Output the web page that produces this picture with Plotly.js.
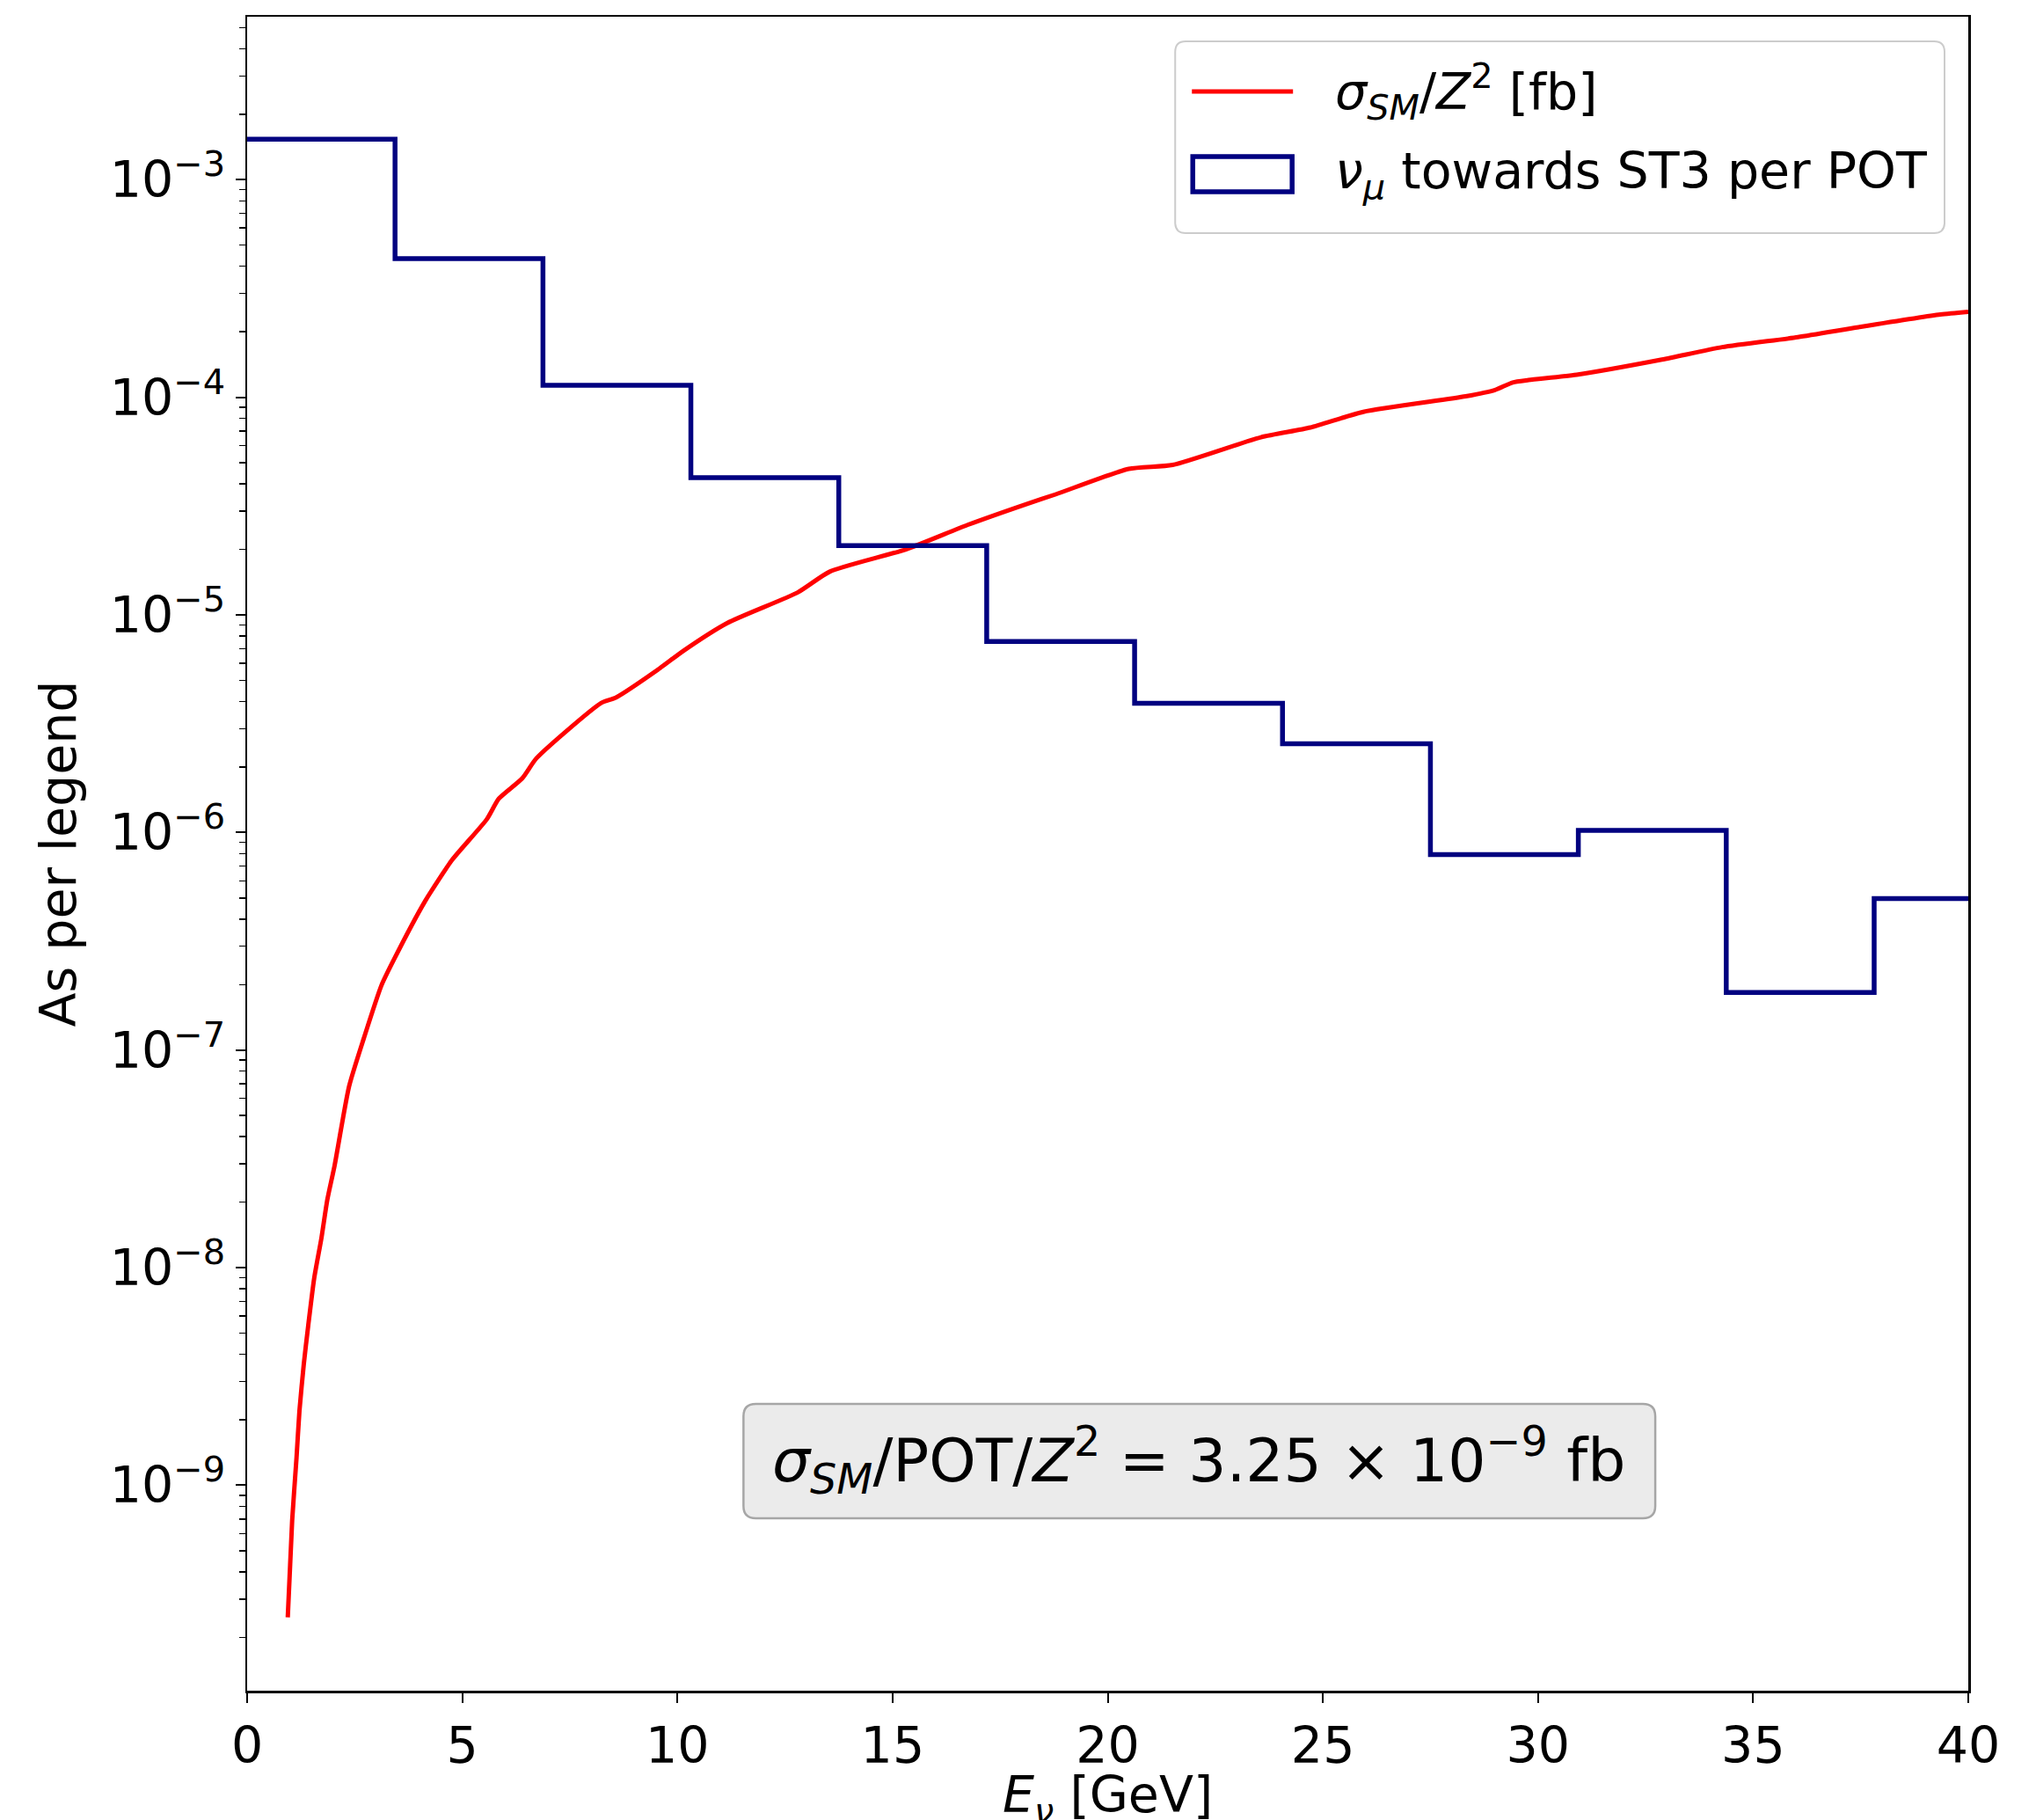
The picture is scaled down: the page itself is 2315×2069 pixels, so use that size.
<!DOCTYPE html>
<html><head><meta charset="utf-8">
<script src="https://cdn.plot.ly/plotly-3.0.1.min.js"></script>
<style>html,body{margin:0;padding:0;background:#fff}</style>
</head><body><div id="chart" style="width:2315px;height:2069px"></div>
<script>
// ---- data ----
const sigmaEnergy = [0.944, 1.046, 1.148, 1.216, 1.318, 1.42, 1.557, 1.727, 1.863, 2.033, 2.37, 2.71, 3.12, 3.40, 4.14, 4.76, 5.57, 5.85, 6.39, 6.73, 8.23, 8.57, 9.59, 10.14, 11.16, 12.80, 13.54, 15.31, 16.74, 18.11, 18.79, 20.49, 21.51, 23.56, 24.71, 25.94, 28.32, 29.0, 29.41, 29.78, 30.9, 32.88, 34.28, 36.04, 37.45, 39.35, 40.0];
const sigmaValue = [2.47e-10, 6.87e-10, 1.34e-9, 2.20e-9, 3.62e-9, 5.42e-9, 8.91e-9, 1.37e-8, 2.05e-8, 2.95e-8, 6.82e-8, 1.13e-7, 1.98e-7, 2.58e-7, 4.85e-7, 7.46e-7, 1.15e-6, 1.43e-6, 1.77e-6, 2.20e-6, 3.94e-6, 4.17e-6, 5.68e-6, 6.84e-6, 9.18e-6, 1.27e-5, 1.58e-5, 2.00e-5, 2.59e-5, 3.23e-5, 3.58e-5, 4.69e-5, 4.89e-5, 6.55e-5, 7.26e-5, 8.57e-5, 1.01e-4, 1.08e-4, 1.17e-4, 1.20e-4, 1.27e-4, 1.49e-4, 1.70e-4, 1.89e-4, 2.10e-4, 2.40e-4, 2.47e-4];
const binEdges = [0, 3.4375, 6.875, 10.3125, 13.75, 17.1875, 20.625, 24.0625, 27.5, 30.9375, 34.375, 37.8125, 41.25];
const fluxValue = [1.535e-3, 4.34e-4, 1.135e-4, 4.27e-5, 2.08e-5, 7.55e-6, 3.92e-6, 2.56e-6, 7.92e-7, 1.023e-6, 1.84e-7, 4.97e-7];
const xTickVals = [0, 5, 10, 15, 20, 25, 30, 35, 40];
const yTickVals = [1e-9, 1e-8, 1e-7, 1e-6, 1e-5, 1e-4, 1e-3];
const yTickText = ['10<sup>\u22129</sup>', '10<sup>\u22128</sup>', '10<sup>\u22127</sup>', '10<sup>\u22126</sup>', '10<sup>\u22125</sup>', '10<sup>\u22124</sup>', '10<sup>\u22123</sup>'];
const seriesNames = ['<i>\u03c3<sub>SM</sub></i>/<i>Z</i><sup>2</sup> [fb]', '<i>\u03bd<sub>\u03bc</sub></i> towards ST3 per POT'];
const boxText = '<i>\u03c3<sub>SM</sub></i>/POT/<i>Z</i><sup>2</sup> = 3.25 \u00d7 10<sup>\u22129</sup> fb';
const xTitle = '<i>E<sub>\u03bd</sub></i> [GeV]';
const yTitle = 'As per legend';

// ---- layout helpers (pixel -> paper) ----
const FONT = 'DejaVu Sans, Liberation Sans, sans-serif';
const P = {l: 280.5, r: 2238, t: 19, b: 1922};
const px = x => (x - P.l) / (P.r - P.l);
const py = y => (P.b - y) / (P.b - P.t);
function roundRect(x0, y0, x1, y1, r) {
  const pt = (x, y) => px(x).toFixed(5) + ',' + py(y).toFixed(5);
  return 'M' + pt(x0 + r, y0) + ' L' + pt(x1 - r, y0) + ' Q' + pt(x1, y0) + ' ' + pt(x1, y0 + r) +
    ' L' + pt(x1, y1 - r) + ' Q' + pt(x1, y1) + ' ' + pt(x1 - r, y1) +
    ' L' + pt(x0 + r, y1) + ' Q' + pt(x0, y1) + ' ' + pt(x0, y1 - r) +
    ' L' + pt(x0, y0 + r) + ' Q' + pt(x0, y0) + ' ' + pt(x0 + r, y0) + ' Z';
}

// minor tick positions for the log axis
const minorVals = [];
for (let e = -10; e <= -3; e++) for (let m = 2; m <= 9; m++) minorVals.push(m * Math.pow(10, e));

const traces = [
  {x: sigmaEnergy, y: sigmaValue, type: 'scatter', mode: 'lines', name: seriesNames[0],
   line: {color: '#ff0000', width: 5, shape: 'spline', smoothing: 0.6}, showlegend: false},
  {x: binEdges, y: fluxValue.concat([fluxValue[fluxValue.length - 1]]), type: 'scatter', mode: 'lines',
   name: seriesNames[1], line: {color: '#000080', width: 5.5, shape: 'hv'}, showlegend: false}
];

const layout = {
  width: 2315, height: 2069,
  margin: {l: 280.5, r: 2315 - 2238, t: 19, b: 2069 - 1922, pad: 0},
  paper_bgcolor: '#fff', plot_bgcolor: '#fff',
  showlegend: false,
  font: {family: FONT, size: 57, color: '#000'},
  xaxis: {
    range: [0, 40], tickmode: 'array', tickvals: xTickVals, ticktext: xTickVals.map(String),
    ticks: 'outside', ticklen: 11, tickwidth: 2, tickcolor: '#000',
    showline: true, linecolor: '#000', linewidth: 2.5, mirror: true,
    showgrid: false, zeroline: false,
    tickfont: {family: FONT, size: 57, color: '#000'},
    automargin: false
  },
  yaxis: {
    type: 'log', range: [-9.944, -2.251],
    tickmode: 'array', tickvals: yTickVals, ticktext: yTickText,
    ticks: 'outside', ticklen: 11, tickwidth: 2, tickcolor: '#000',
    minor: {tickmode: 'array', tickvals: minorVals, ticks: 'outside', ticklen: 7, tickwidth: 1.5, tickcolor: '#000', showgrid: false},
    showline: true, linecolor: '#000', linewidth: 2.5, mirror: true,
    showgrid: false, zeroline: false,
    tickfont: {family: FONT, size: 57, color: '#000'},
    title: {text: yTitle, font: {family: FONT, size: 57, color: '#000'}, standoff: 20},
    automargin: false
  },
  shapes: [
    // legend frame
    {type: 'path', xref: 'paper', yref: 'paper', path: roundRect(1336, 47, 2211, 265, 12),
     fillcolor: 'rgba(255,255,255,0.8)', line: {color: '#cccccc', width: 2}},
    // legend handles
    {type: 'line', xref: 'paper', yref: 'paper', x0: px(1355), x1: px(1470), y0: py(104), y1: py(104),
     line: {color: '#ff0000', width: 5}},
    {type: 'rect', xref: 'paper', yref: 'paper', x0: px(1356), x1: px(1469), y0: py(178), y1: py(218),
     line: {color: '#000080', width: 5.5}, fillcolor: 'rgba(0,0,0,0)'},
    // info box
    {type: 'path', xref: 'paper', yref: 'paper', path: roundRect(845, 1596, 1882, 1726, 14),
     fillcolor: '#ebebeb', line: {color: '#a6a6a6', width: 2.5}}
  ],
  annotations: [
    // x-axis title
    {xref: 'paper', yref: 'paper', x: 0.5, y: py(2044), xanchor: 'center', yanchor: 'middle',
     text: xTitle, showarrow: false, font: {family: FONT, size: 57, color: '#000'}},
    {xref: 'paper', yref: 'paper', x: px(1516), y: py(104), xanchor: 'left', yanchor: 'middle',
     text: seriesNames[0], showarrow: false, font: {family: FONT, size: 57, color: '#000'}},
    {xref: 'paper', yref: 'paper', x: px(1516), y: py(198), xanchor: 'left', yanchor: 'middle',
     text: seriesNames[1], showarrow: false, font: {family: FONT, size: 57, color: '#000'}},
    {xref: 'paper', yref: 'paper', x: px(1363), y: py(1660), xanchor: 'center', yanchor: 'middle',
     text: boxText, showarrow: false, font: {family: FONT, size: 68, color: '#000'}}
  ]
};

Plotly.newPlot('chart', traces, layout, {displayModeBar: false, staticPlot: true});
</script>
</body></html>
